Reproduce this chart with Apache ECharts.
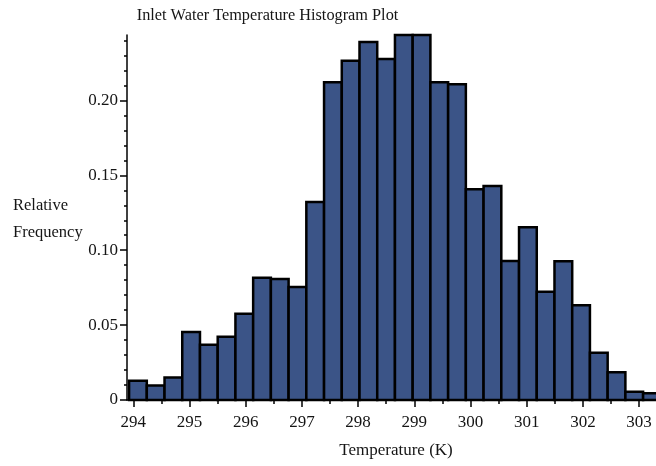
<!DOCTYPE html>
<html><head><meta charset="utf-8">
<script src="https://cdn.jsdelivr.net/npm/echarts@6/dist/echarts.min.js"></script>
<style>html,body{margin:0;padding:0;background:#fff}#c{width:656px;height:466px}</style>
</head><body><div id="c"></div>
<script>
// Histogram bins (K)
const binStart = 293.925;
const binWidth = 0.3154;
// Relative frequency of each bin
const relFreq = [0.0129, 0.0096, 0.0151, 0.0454, 0.0369, 0.0423, 0.0576, 0.0816, 0.0808, 0.0754,
                 0.1322, 0.2121, 0.2265, 0.2390, 0.2276, 0.2437, 0.2437, 0.2121, 0.2109, 0.1407,
                 0.1429, 0.0928, 0.1153, 0.0723, 0.0926, 0.0632, 0.0316, 0.0185, 0.0055, 0.0045];
// Tick values
const xTicks = [294, 295, 296, 297, 298, 299, 300, 301, 302, 303];
const xMinorTicks = [294.5, 295.5, 296.5, 297.5, 298.5, 299.5, 300.5, 301.5, 302.5];
const yTicks = [0, 0.05, 0.10, 0.15, 0.20];
const yMinorTicks = [0.01, 0.02, 0.03, 0.04, 0.06, 0.07, 0.08, 0.09, 0.11, 0.12, 0.13, 0.14,
                     0.16, 0.17, 0.18, 0.19, 0.21, 0.22, 0.23, 0.24];
const xMin = 293.888, xMax = 303.301;
const yMin = 0, yMax = 0.2437;

const titleText = 'Inlet Water Temperature Histogram Plot';
const xName = 'Temperature (K)';
const yName = 'Relative\nFrequency';

const FONT = '"Liberation Serif", "Times New Roman", serif';
const TXT = '#151515';

const data = relFreq.map((v, i) => [binStart + i * binWidth, binStart + (i + 1) * binWidth, v]);

const chart = echarts.init(document.getElementById('c'), null, {renderer: 'canvas'});
chart.setOption({
  animation: false,
  backgroundColor: '#fff',
  grid: {left: 127, right: 0, top: 35, bottom: 66, containLabel: false},
  graphic: [
    {type: 'text', x: 267.5, y: 16, style: {text: titleText, font: '16.3px ' + FONT, fill: TXT, align: 'center', verticalAlign: 'middle'}},
    {type: 'text', x: 13, y: 219.5, style: {text: yName, font: '16.5px ' + FONT, fill: TXT, align: 'left', verticalAlign: 'middle', lineHeight: 27}}
  ],
  xAxis: [
    {
      type: 'value', min: xMin, max: xMax, position: 'bottom',
      name: xName, nameLocation: 'middle', nameGap: 42,
      nameTextStyle: {fontFamily: FONT, fontSize: 17, color: TXT, padding: [0, 0, 0, 9]},
      splitLine: {show: false},
      axisLine: {show: true, lineStyle: {color: '#000', width: 1.5}},
      axisTick: {show: true, customValues: xTicks, length: 7, inside: false, lineStyle: {color: '#000', width: 1.5}},
      axisLabel: {show: true, customValues: xTicks, margin: 14, fontFamily: FONT, fontSize: 17, color: TXT,
                  formatter: v => String(v)}
    },
    {
      type: 'value', min: xMin, max: xMax, position: 'bottom',
      splitLine: {show: false},
      axisLine: {show: false},
      axisTick: {show: true, customValues: xMinorTicks, length: 4, lineStyle: {color: '#000', width: 1.5}},
      axisLabel: {show: false}
    }
  ],
  yAxis: [
    {
      type: 'value', min: yMin, max: yMax, position: 'left',
      splitLine: {show: false},
      axisLine: {show: true, lineStyle: {color: '#000', width: 1.5}},
      axisTick: {show: true, customValues: yTicks, length: 7, lineStyle: {color: '#000', width: 1.5}},
      axisLabel: {show: true, customValues: yTicks, margin: 9, fontFamily: FONT, fontSize: 17, color: TXT,
                  formatter: v => (v === 0 ? '0' : v.toFixed(2))}
    },
    {
      type: 'value', min: yMin, max: yMax, position: 'left',
      splitLine: {show: false},
      axisLine: {show: false},
      axisTick: {show: true, customValues: yMinorTicks, length: 3, lineStyle: {color: '#000', width: 1.5}},
      axisLabel: {show: false}
    }
  ],
  series: [{
    type: 'custom',
    xAxisIndex: 0, yAxisIndex: 0,
    clip: false,
    encode: {x: [0, 1], y: 2},
    data: data,
    renderItem: function (params, api) {
      const p0 = api.coord([api.value(0), api.value(2)]);
      const p1 = api.coord([api.value(1), 0]);
      return {
        type: 'rect',
        shape: {x: p0[0], y: p0[1], width: p1[0] - p0[0], height: p1[1] - p0[1]},
        style: {fill: '#3b5487', stroke: '#000', lineWidth: 2.5}
      };
    }
  }]
});
</script>
</body></html>
